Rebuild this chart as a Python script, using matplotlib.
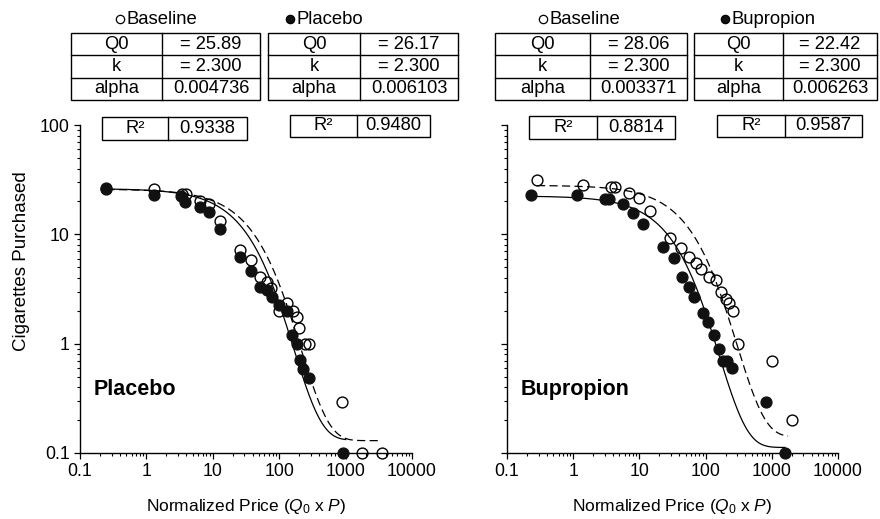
import numpy as np
import matplotlib
matplotlib.use("Agg")
import matplotlib.pyplot as plt
from matplotlib.patches import Rectangle
from matplotlib.lines import Line2D

plt.rcParams['font.family'] = ['Liberation Sans', 'DejaVu Sans']
plt.rcParams['mathtext.fontset'] = 'custom'
plt.rcParams['mathtext.rm'] = 'Liberation Sans'
plt.rcParams['mathtext.it'] = 'Liberation Sans:italic'

# ---------------- data ----------------
plc_base_x = [0.25, 1.3, 3.4, 3.9, 6.4, 8.8, 12.8, 25.7, 37.6, 51, 65, 75, 98, 131, 161, 185, 199, 245, 281, 884, 1766, 3533]
plc_base_y = [26, 26, 23.4, 23.4, 20.2, 18.9, 13.2, 7.2, 5.8, 4.1, 3.7, 3.2, 2.0, 2.35, 2.0, 1.75, 1.39, 1.0, 1.0, 0.29, 0.1, 0.1]
plc_drug_x = [0.25, 1.3, 3.3, 3.8, 6.4, 8.8, 12.8, 25.7, 37.6, 51, 65, 78, 100, 131, 155, 185, 205, 229, 281, 912]
plc_drug_y = [26.5, 22.9, 22.4, 19.8, 17.8, 16.0, 11.2, 6.2, 4.6, 3.3, 3.1, 2.7, 2.25, 2.0, 1.2, 1.0, 0.71, 0.59, 0.49, 0.1]

bup_base_x = [0.284, 1.41, 3.7, 4.3, 7.0, 9.9, 14.5, 29, 42, 56, 72, 85, 112, 144, 171, 203, 226, 260, 308, 1007, 2020]
bup_base_y = [31.4, 28.3, 27.1, 27.1, 23.9, 21.5, 16.3, 9.2, 7.5, 6.2, 5.5, 4.8, 4.1, 3.8, 3.0, 2.56, 2.35, 2.0, 1.0, 0.69, 0.2]
bup_drug_x = [0.23, 1.14, 3.0, 3.5, 5.7, 8.0, 11.3, 22.7, 33, 44, 56, 67, 91, 109, 134, 159, 183, 210, 251, 817, 1580]
bup_drug_y = [22.9, 22.9, 21.0, 21.0, 18.9, 15.7, 12.4, 7.7, 6.1, 4.1, 3.3, 2.67, 1.9, 1.58, 1.2, 0.89, 0.69, 0.69, 0.6, 0.29, 0.1]

# fitted parameters (Q0, k, alpha) and R^2
plc_base_par = (25.89, 2.300, 0.004736)
plc_drug_par = (26.17, 2.300, 0.006103)
bup_base_par = (28.06, 2.300, 0.003371)
bup_drug_par = (22.42, 2.300, 0.006263)
plc_base_r2, plc_drug_r2 = "0.9338", "0.9480"
bup_base_r2, bup_drug_r2 = "0.8814", "0.9587"

plc_base_tab = [["Q0", "= 25.89"], ["k", "= 2.300"], ["alpha", "0.004736"]]
plc_drug_tab = [["Q0", "= 26.17"], ["k", "= 2.300"], ["alpha", "0.006103"]]
bup_base_tab = [["Q0", "= 28.06"], ["k", "= 2.300"], ["alpha", "0.003371"]]
bup_drug_tab = [["Q0", "= 22.42"], ["k", "= 2.300"], ["alpha", "0.006263"]]

# curve ranges
plc_base_rng = (0.25, 3533)
plc_drug_rng = (0.25, 1000)
bup_base_rng = (0.284, 1760)
bup_drug_rng = (0.23, 1580)

xticks = [0.1, 1, 10, 100, 1000, 10000]
xticklabels = ["0.1", "1", "10", "100", "1000", "10000"]
yticks = [0.1, 1, 10, 100]
yticklabels = ["0.1", "1", "10", "100"]

W, H = 880, 519
fig = plt.figure(figsize=(W / 100, H / 100), dpi=100)


def fx(px):
    return px / W


def fy(py):
    return 1 - py / H


def model(par, rng):
    q0, k, a = par
    x = np.logspace(np.log10(rng[0]), np.log10(rng[1]), 400)
    return x, 10 ** (np.log10(q0) + k * (np.exp(-a * x) - 1))


def make_axes(x0, x1, y0, y1):
    ax = fig.add_axes([fx(x0), fy(y1), fx(x1) - fx(x0), fy(y0) - fy(y1)])
    ax.set_xscale('log')
    ax.set_yscale('log')
    ax.set_xlim(0.1, 10000)
    ax.set_ylim(0.1, 100)
    for s in ['top', 'right']:
        ax.spines[s].set_visible(False)
    for s in ['left', 'bottom']:
        ax.spines[s].set_linewidth(1.0)
    ax.set_xticks(xticks)
    ax.set_xticklabels(xticklabels)
    ax.set_yticks(yticks)
    ax.tick_params(which='major', length=4, width=0.9, labelsize=12.8, direction='out')
    ax.tick_params(which='minor', length=2.5, width=0.8, direction='out')
    ax.patch.set_alpha(0)
    return ax


def panel(ax, bx, by, dx, dy, bpar, dpar, brng, drng, name):
    cx, cy = model(bpar, brng)
    ax.plot(cx, cy, color='black', lw=0.9, ls=(0, (6.5, 3.5)), clip_on=False, zorder=2)
    cx, cy = model(dpar, drng)
    ax.plot(cx, cy, color='black', lw=0.9, ls='-', clip_on=False, zorder=2)
    ax.plot(bx, by, 'o', ms=7.8, mfc='none', mec='black', mew=1.0, clip_on=False, zorder=3)
    ax.plot(dx, dy, 'o', ms=7.8, mfc='#111111', mec='#111111', mew=1.0, clip_on=False, zorder=4)
    ax.text(0.04, 0.195, name, transform=ax.transAxes, fontsize=15.5, fontweight='bold',
            ha='left', va='center')
    ax.set_xlabel(r"Normalized Price ($\mathit{Q_0}$ x $\mathit{P}$)", fontsize=12.5, labelpad=12)


axL = make_axes(80, 412, 125, 453)
axL.set_yticklabels(yticklabels)
axL.set_ylabel("Cigarettes Purchased", fontsize=13.5)
axL.yaxis.set_label_coords(-0.15, 0.585)
panel(axL, plc_base_x, plc_base_y, plc_drug_x, plc_drug_y, plc_base_par, plc_drug_par,
      plc_base_rng, plc_drug_rng, "Placebo")

axR = make_axes(507, 838, 125, 453)
axR.set_yticklabels([])
panel(axR, bup_base_x, bup_base_y, bup_drug_x, bup_drug_y, bup_base_par, bup_drug_par,
      bup_base_rng, bup_drug_rng, "Bupropion")


def draw_table(rows, x0, x1, xd, y0, y1, fs=13.2):
    n = len(rows)
    fig.add_artist(Rectangle((fx(x0), fy(y1)), fx(x1) - fx(x0), fy(y0) - fy(y1),
                             transform=fig.transFigure, fill=False, lw=1.0, ec='black'))
    fig.add_artist(Line2D([fx(xd), fx(xd)], [fy(y0), fy(y1)], transform=fig.transFigure,
                          color='black', lw=1.0))
    rh = (y1 - y0) / n
    for i in range(1, n):
        yy = y0 + i * rh
        fig.add_artist(Line2D([fx(x0), fx(x1)], [fy(yy), fy(yy)], transform=fig.transFigure,
                              color='black', lw=1.0))
    for i, (a, b) in enumerate(rows):
        yc = y0 + (i + 0.5) * rh
        fig.text(fx((x0 + xd) / 2), fy(yc), a, ha='center', va='center', fontsize=fs)
        fig.text(fx((xd + x1) / 2), fy(yc), b, ha='center', va='center', fontsize=fs)


def legend_item(px, py, label, filled):
    fig.add_artist(Line2D([fx(px)], [fy(py)], transform=fig.transFigure, marker='o',
                          ms=6, mfc='#111111' if filled else 'none', mec='black', mew=0.9,
                          ls='none'))
    fig.text(fx(px + 6), fy(py), label, ha='left', va='center', fontsize=13.3)


legend_item(120, 19, "Baseline", False)
legend_item(290, 19, "Placebo", True)
legend_item(543, 19, "Baseline", False)
legend_item(725, 19, "Bupropion", True)

draw_table(plc_base_tab, 71, 260, 162, 33, 100)
draw_table(plc_drug_tab, 268, 458, 360, 33, 100)
draw_table(bup_base_tab, 495, 687, 590, 33, 100)
draw_table(bup_drug_tab, 694, 877, 783, 33, 100)

draw_table([["R²", plc_base_r2]], 102, 247, 168, 117, 140)
draw_table([["R²", plc_drug_r2]], 290, 430, 357, 115, 137)
draw_table([["R²", bup_base_r2]], 529, 675, 597, 116, 139)
draw_table([["R²", bup_drug_r2]], 717, 862, 785, 115, 137)

fig.savefig("out.png", dpi=100)
